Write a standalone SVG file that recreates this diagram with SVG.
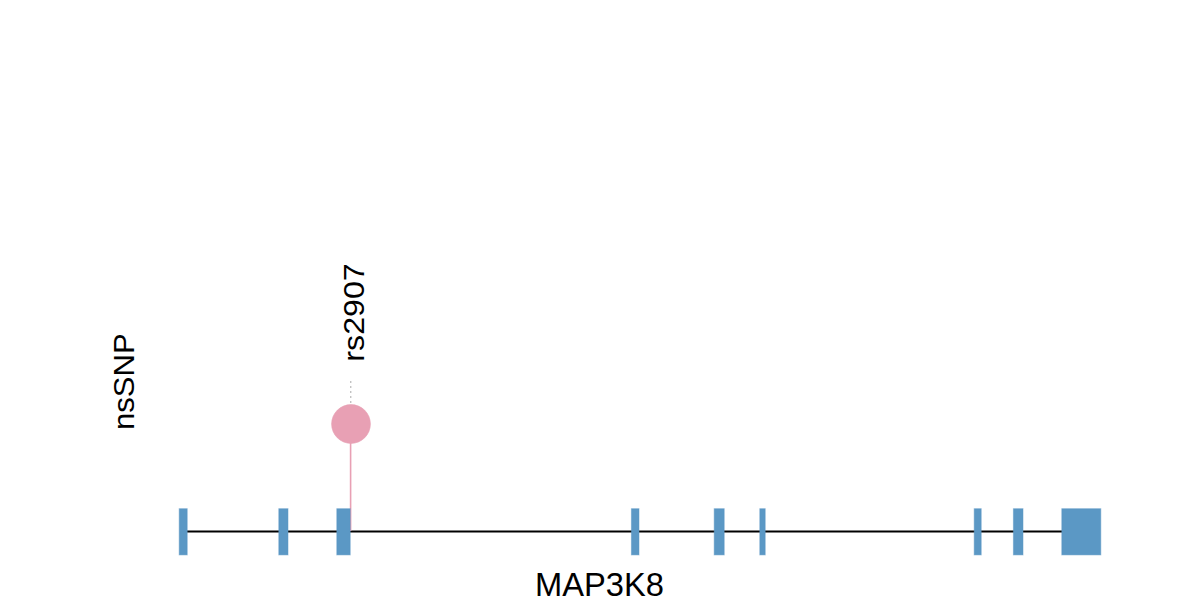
<svg xmlns="http://www.w3.org/2000/svg" width="1200" height="600" viewBox="0 0 1200 600">
<style>
.exon{fill:#5b98c5;stroke:#5b98c5;stroke-opacity:0.5;stroke-width:1}
.lbl{font-family:"Liberation Sans",Arial,sans-serif;fill:#000}
</style>
<rect width="1200" height="600" fill="#fff"/>
<g id="connectors">
<line x1="183" y1="531.5" x2="1081" y2="531.5" stroke="#000" stroke-width="2"/>
<line x1="350.6" y1="443" x2="350.6" y2="531" stroke="#e8a0b4" stroke-width="1.6"/>
<line x1="350.8" y1="381" x2="350.8" y2="404" stroke="#aaa" stroke-width="1" stroke-dasharray="2,3"/>
</g>
<g id="exons">
<rect class="exon" x="179.2" y="508.7" width="8" height="46.2"/>
<rect class="exon" x="278.8" y="508.7" width="9.2" height="46.2"/>
<rect class="exon" x="336.8" y="508.7" width="13.4" height="46.2"/>
<rect class="exon" x="631.4" y="508.7" width="7.6" height="46.2"/>
<rect class="exon" x="714.2" y="508.7" width="10" height="46.2"/>
<rect class="exon" x="759.8" y="508.7" width="5.4" height="46.2"/>
<rect class="exon" x="974.2" y="508.7" width="7" height="46.2"/>
<rect class="exon" x="1013.4" y="508.7" width="9.6" height="46.2"/>
<rect class="exon" x="1061.8" y="508.7" width="39" height="46.2"/>
</g>
<g id="snp">
<circle cx="351" cy="424" r="19.4" fill="#e8a0b4" stroke="#e8a0b4" stroke-opacity="0.6"/>
<text class="lbl" font-size="29" transform="translate(363.8,312.5) rotate(-90)" text-anchor="middle" textLength="98.3" lengthAdjust="spacingAndGlyphs">rs2907</text>
</g>
<g id="labels">
<text class="lbl" font-size="33" x="599.5" y="596" text-anchor="middle" textLength="129" lengthAdjust="spacingAndGlyphs">MAP3K8</text>
<text class="lbl" font-size="29" transform="translate(133.5,381.7) rotate(-90)" text-anchor="middle" textLength="96.7" lengthAdjust="spacingAndGlyphs">nsSNP</text>
</g>
</svg>
